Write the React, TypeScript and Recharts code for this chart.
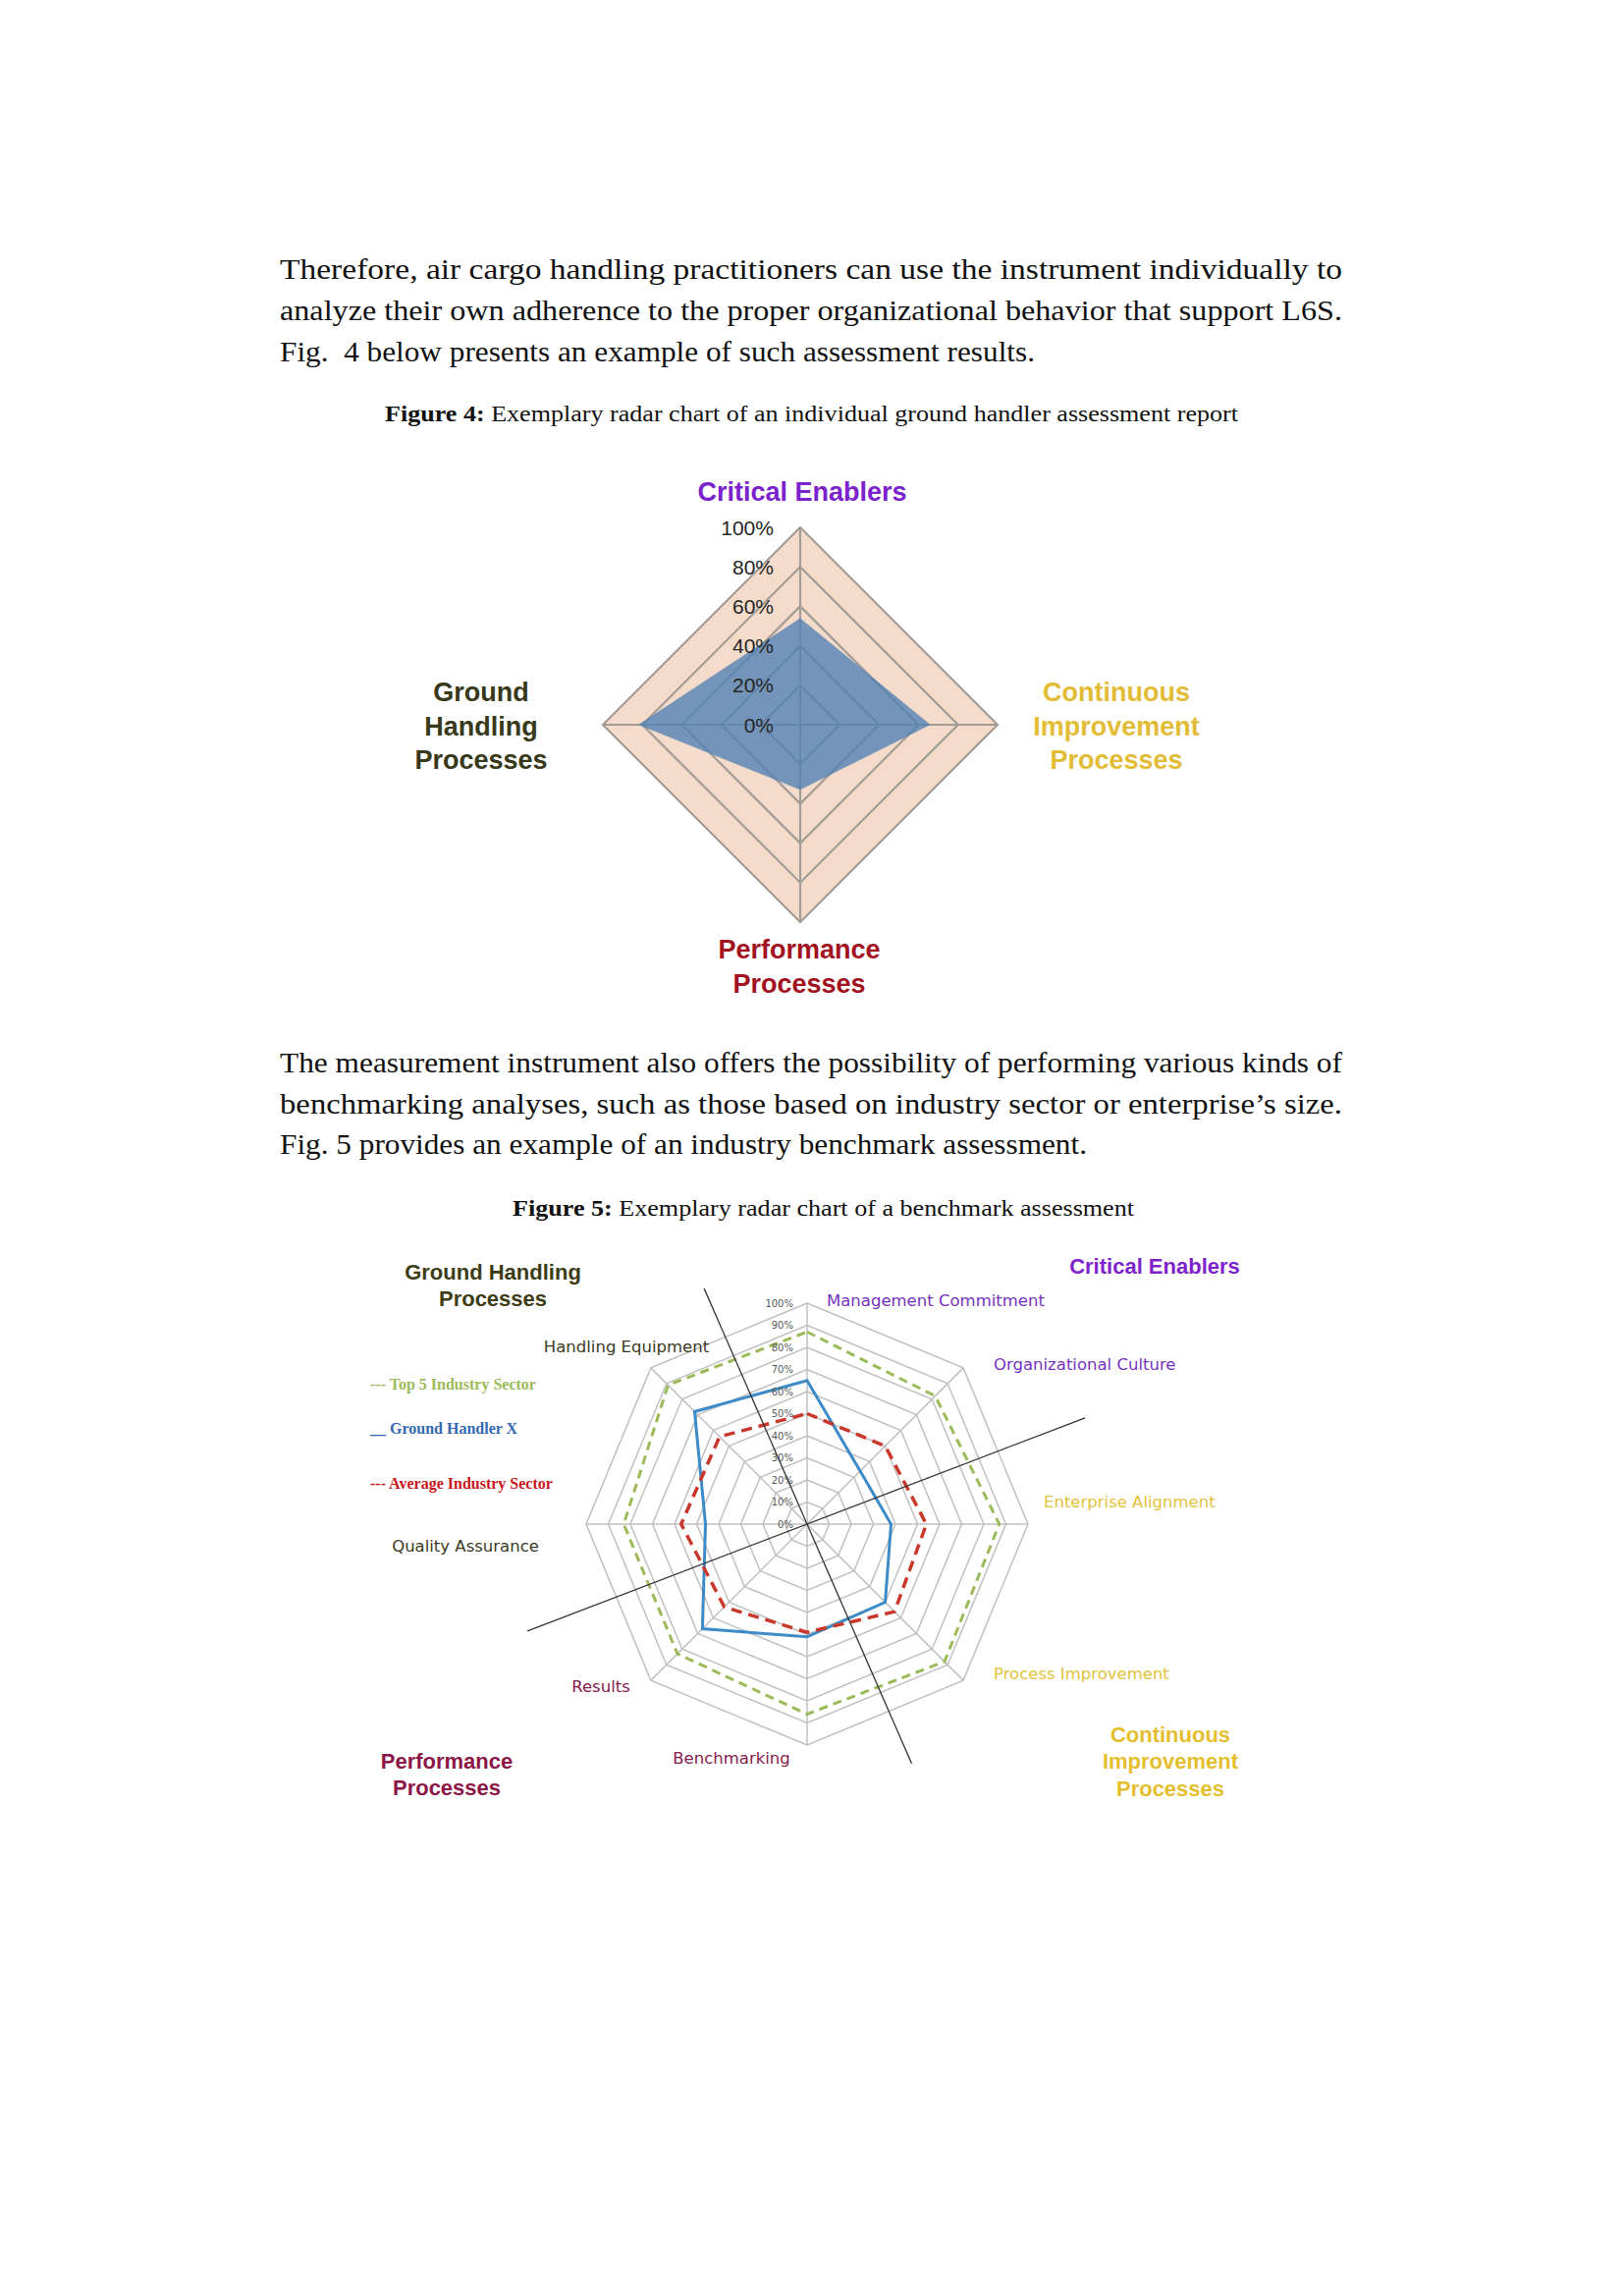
import React from 'react'
import {
  RadarChart, Radar, PolarGrid, PolarAngleAxis, PolarRadiusAxis, Legend,
} from 'recharts'

// ---------- Figure 4: individual ground handler ----------
const areas4 = [
  'Critical Enablers',
  'Continuous Improvement Processes',
  'Performance Processes',
  'Ground Handling Processes',
]
const handler4 = [54, 66, 33, 82]
const fullScale4 = [100, 100, 100, 100]

// ---------- Figure 5: benchmark ----------
const items5 = [
  'Management Commitment',
  'Organizational Culture',
  'Enterprise Alignment',
  'Process Improvement',
  'Benchmarking',
  'Results',
  'Quality Assurance',
  'Handling Equipment',
]
const top5Sector = [87, 82, 87, 88, 86, 83, 83, 89]
const groundHandlerX = [65, 34, 38, 50, 51, 67, 46, 72]
const averageSector = [50, 50, 54, 56, 49, 53, 57, 56]

// ---------- page text ----------
const para1 = [
  'Therefore, air cargo handling practitioners can use the instrument individually to',
  'analyze their own adherence to the proper organizational behavior that support L6S.',
  'Fig.  4 below presents an example of such assessment results.',
]
const para2 = [
  'The measurement instrument also offers the possibility of performing various kinds of',
  'benchmarking analyses, such as those based on industry sector or enterprise\u2019s size.',
  'Fig. 5 provides an example of an industry benchmark assessment.',
]
const caption4 = ['Figure 4:', ' Exemplary radar chart of an individual ground handler assessment report']
const caption5 = ['Figure 5:', ' Exemplary radar chart of a benchmark assessment']

const data4 = areas4.map((area, i) => ({ area, handler: handler4[i], full: fullScale4[i] }))
const data5 = items5.map((item, i) => ({
  item, top5: top5Sector[i], handler: groundHandlerX[i], average: averageSector[i],
}))

// layout (page px)
const F4 = { left: 365, top: 478, w: 900, h: 560, cx: 450, cy: 260, r: 201 }
const F5 = { left: 372, top: 1252, w: 900, h: 600, cx: 450, cy: 300, r: 225 }
const ZERO = { top: 0, right: 0, bottom: 0, left: 0 }

const SANS = '"Liberation Sans", Arial, sans-serif'
const SERIF = '"Liberation Serif", "Times New Roman", serif'
const VERD = '"DejaVu Sans", Verdana, sans-serif'

// big area labels for fig 4, offsets from chart centre
const areaLabel4: Record<string, { dx: number; dy: number; color: string; lines: string[] }> = {
  'Critical Enablers': { dx: 2, dy: -237, color: '#7B22CC', lines: ['Critical Enablers'] },
  'Continuous Improvement Processes': { dx: 322, dy: -33, color: '#E2BC36', lines: ['Continuous', 'Improvement', 'Processes'] },
  'Performance Processes': { dx: -1, dy: 229, color: '#A3121F', lines: ['Performance', 'Processes'] },
  'Ground Handling Processes': { dx: -325, dy: -33, color: '#38381A', lines: ['Ground', 'Handling', 'Processes'] },
}

const itemLabel5: Record<string, { dx: number; dy: number; anchor: 'start' | 'middle'; color: string }> = {
  'Management Commitment': { dx: 20, dy: -228, anchor: 'start', color: '#7533C0' },
  'Organizational Culture': { dx: 190, dy: -163, anchor: 'start', color: '#7533C0' },
  'Enterprise Alignment': { dx: 241, dy: -23, anchor: 'start', color: '#E3C23C' },
  'Process Improvement': { dx: 190, dy: 152, anchor: 'start', color: '#E3C23C' },
  'Benchmarking': { dx: -77, dy: 238, anchor: 'middle', color: '#86204E' },
  'Results': { dx: -210, dy: 165, anchor: 'middle', color: '#86204E' },
  'Quality Assurance': { dx: -348, dy: 22, anchor: 'middle', color: '#3A3A1E' },
  'Handling Equipment': { dx: -184, dy: -181, anchor: 'middle', color: '#3A3A1E' },
}

const legendStyle: Record<string, { prefix: string; color: string; top: number }> = {
  'Top 5 Industry Sector': { prefix: '--- ', color: '#9BBB59', top: 0 },
  'Ground Handler X': { prefix: '__ ', color: '#3568B2', top: 45 },
  'Average Industry Sector': { prefix: '--- ', color: '#C8161D', top: 101 },
}

// group headings for fig 5 (page coords)
const groups5 = [
  { lines: ['Ground Handling', 'Processes'], x: 502, y: 1295, color: '#3C3C16' },
  { lines: ['Critical Enablers'], x: 1176, y: 1289, color: '#7F22CC' },
  { lines: ['Performance', 'Processes'], x: 455, y: 1793, color: '#8C1645' },
  { lines: ['Continuous', 'Improvement', 'Processes'], x: 1192, y: 1766, color: '#E5BE2E' },
]

// the two black separators of fig 5, through the centre (degrees, length)
const separators5 = [
  { a1: 113.6, l1: 262, a2: -66.4, l2: 266 },
  { a1: 20.9, l1: 303, a2: 200.9, l2: 305 },
]

function Area4Tick(props: any) {
  const cfg = areaLabel4[props.payload.value]
  if (!cfg) return null
  return (
    <text x={F4.cx + cfg.dx} y={F4.cy + cfg.dy} textAnchor="middle" fill={cfg.color}
      fontFamily={SANS} fontWeight="bold" fontSize={27}>
      {cfg.lines.map((l, i) => (
        <tspan key={l} x={F4.cx + cfg.dx} dy={i === 0 ? 0 : 34.5} dominantBaseline="central">{l}</tspan>
      ))}
    </text>
  )
}

function Pct4Tick({ x, y, payload }: any) {
  return (
    <text x={x - 27} y={y} textAnchor="end" dominantBaseline="central"
      fontFamily={SANS} fontSize={21} fill="#262626">{payload.value}%</text>
  )
}

function Item5Tick(props: any) {
  const cfg = itemLabel5[props.payload.value]
  if (!cfg) return null
  return (
    <text x={F5.cx + cfg.dx} y={F5.cy + cfg.dy} textAnchor={cfg.anchor} dominantBaseline="central"
      fontFamily={VERD} fontSize={16.5} fill={cfg.color}>{props.payload.value}</text>
  )
}

function Pct5Tick({ x, y, payload }: any) {
  return (
    <text x={x - 14} y={y} textAnchor="end" dominantBaseline="central"
      fontFamily={VERD} fontSize={10} fill="#595959">{payload.value}%</text>
  )
}

function Legend5({ payload }: any) {
  return (
    <div style={{ position: 'relative', width: 230, height: 125 }}>
      {(payload ?? []).map((p: any) => {
        const s = legendStyle[p.value]
        if (!s) return null
        return (
          <div key={p.value} style={{
            position: 'absolute', left: 0, top: s.top, lineHeight: '20px', whiteSpace: 'pre',
            fontFamily: SERIF, fontWeight: 'bold', fontSize: 16, color: s.color,
          }}>{s.prefix}{p.value}</div>
        )
      })}
    </div>
  )
}

function TextLine({ x, y, w, size, children, bold }: any) {
  return (
    <text x={x} y={y} textLength={w} lengthAdjust="spacingAndGlyphs" fontFamily={SERIF}
      fontSize={size} fill="#111" fontWeight={bold ? 'bold' : 'normal'} style={{ whiteSpace: 'pre' }}>
      {children}
    </text>
  )
}

export default function App() {
  const c5x = F5.left + F5.cx
  const c5y = F5.top + F5.cy
  const rad = (d: number) => (d * Math.PI) / 180

  return (
    <div style={{ position: 'absolute', left: 0, top: 0, width: 1653, height: 2338, background: '#fff', overflow: 'hidden' }}>
      {/* Figure 4 - peach backdrop */}
      <div style={{ position: 'absolute', left: F4.left, top: F4.top }}>
        <RadarChart width={F4.w} height={F4.h} data={data4} cx={F4.cx} cy={F4.cy} outerRadius={F4.r} margin={ZERO}>
          <PolarAngleAxis dataKey="area" tick={false} axisLine={false} tickLine={false} />
          <PolarRadiusAxis angle={90} domain={[0, 100]} tick={false} axisLine={false} />
          <Radar dataKey="full" fill="#F5DCCA" fillOpacity={1} stroke="none" isAnimationActive={false} />
        </RadarChart>
      </div>
      {/* Figure 4 - grid, score, labels */}
      <div style={{ position: 'absolute', left: F4.left, top: F4.top }}>
        <RadarChart width={F4.w} height={F4.h} data={data4} cx={F4.cx} cy={F4.cy} outerRadius={F4.r} margin={ZERO}>
          <PolarGrid stroke="#A49C96" strokeWidth={2.2} />
          <PolarAngleAxis dataKey="area" tick={<Area4Tick />} axisLine={false} tickLine={false} />
          <Radar name="Ground handler" dataKey="handler" fill="#4F82B5" fillOpacity={0.78} stroke="none" isAnimationActive={false} />
          <PolarRadiusAxis angle={90} domain={[0, 100]} tickCount={6} tick={<Pct4Tick />} axisLine={false} tickLine={false} />
        </RadarChart>
      </div>

      {/* Figure 5 */}
      <div style={{ position: 'absolute', left: F5.left, top: F5.top }}>
        <RadarChart width={F5.w} height={F5.h} data={data5} cx={F5.cx} cy={F5.cy} outerRadius={F5.r} margin={ZERO}>
          <PolarGrid stroke="#C0C0C0" strokeWidth={1.5} />
          <PolarAngleAxis dataKey="item" tick={<Item5Tick />} axisLine={false} tickLine={false} />
          <Radar name="Top 5 Industry Sector" dataKey="top5" stroke="#9BBB59" strokeWidth={3} strokeDasharray="9 6"
            fill="none" fillOpacity={0} isAnimationActive={false} />
          <Radar name="Ground Handler X" dataKey="handler" stroke="#3C8BC8" strokeWidth={3}
            fill="none" fillOpacity={0} isAnimationActive={false} />
          <Radar name="Average Industry Sector" dataKey="average" stroke="#C9382A" strokeWidth={3.5} strokeDasharray="11 7"
            fill="none" fillOpacity={0} isAnimationActive={false} />
          <PolarRadiusAxis angle={90} domain={[0, 100]} tickCount={11} tick={<Pct5Tick />} axisLine={false} tickLine={false} />
          <Legend content={<Legend5 />} verticalAlign="top" align="left"
            wrapperStyle={{ position: 'absolute', left: 5, top: 148, width: 230, height: 125 }} />
        </RadarChart>
      </div>

      {/* page text, headings and separators */}
      <svg width={1653} height={2338} style={{ position: 'absolute', left: 0, top: 0, pointerEvents: 'none' }}>
        {para1.map((t, i) => (
          <TextLine key={t} x={285} y={284 + i * 42} w={i === 2 ? 769 : 1082} size={29}>{t}</TextLine>
        ))}
        <text x={392} y={429} textLength={869} lengthAdjust="spacingAndGlyphs" fontFamily={SERIF} fontSize={24} fill="#111">
          <tspan fontWeight="bold">{caption4[0]}</tspan><tspan style={{ whiteSpace: 'pre' }}>{caption4[1]}</tspan>
        </text>
        {para2.map((t, i) => (
          <TextLine key={t} x={285} y={1092 + i * 41.5} w={i === 2 ? 822 : 1082} size={29}>{t}</TextLine>
        ))}
        <text x={522} y={1238} textLength={633} lengthAdjust="spacingAndGlyphs" fontFamily={SERIF} fontSize={24} fill="#111">
          <tspan fontWeight="bold">{caption5[0]}</tspan><tspan style={{ whiteSpace: 'pre' }}>{caption5[1]}</tspan>
        </text>

        {groups5.map((g) => g.lines.map((l, i) => (
          <text key={l + g.x} x={g.x} y={g.y + i * 27.5} textAnchor="middle" dominantBaseline="central"
            fontFamily={SANS} fontWeight="bold" fontSize={22} fill={g.color}>{l}</text>
        )))}

        {separators5.map((s, i) => (
          <line key={i}
            x1={c5x + s.l1 * Math.cos(rad(s.a1))} y1={c5y - s.l1 * Math.sin(rad(s.a1))}
            x2={c5x + s.l2 * Math.cos(rad(s.a2))} y2={c5y - s.l2 * Math.sin(rad(s.a2))}
            stroke="#333" strokeWidth={1.3} />
        ))}
      </svg>
    </div>
  )
}
